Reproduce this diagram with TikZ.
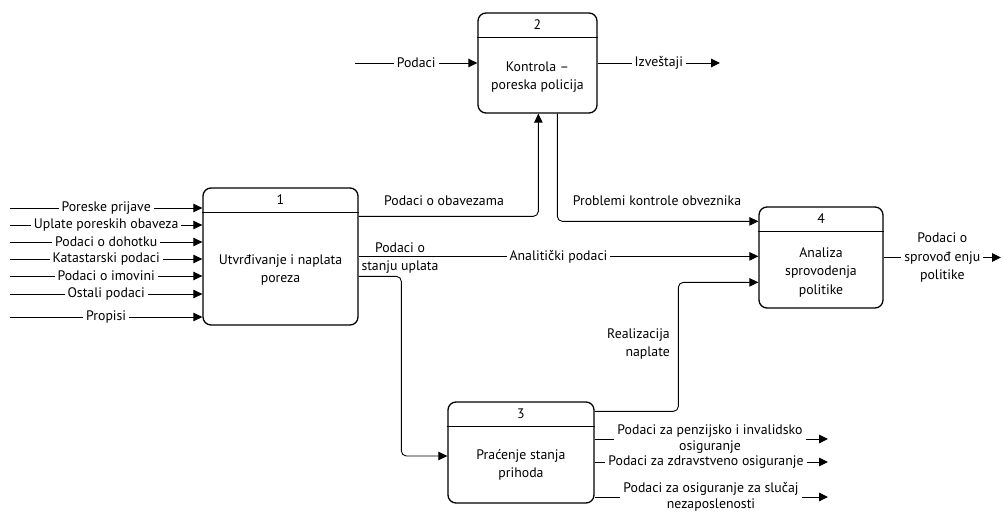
\documentclass[tikz,border=0pt]{standalone}
\usepackage{fontspec}
\setmainfont{PT Sans}
\usetikzlibrary{arrows.meta,calc}
\begin{document}
\begin{tikzpicture}[x=1pt,y=-1pt,
  font=\fontsize{13.8}{18.5}\selectfont,
  proc/.style={draw,line width=1.3pt,rounded corners=8pt,inner sep=0pt},
  hdr/.style={line width=1.3pt},
  flow/.style={line width=0.9pt,-{Triangle[length=9pt,width=8.5pt]}},
  lbl/.style={fill=white,inner xsep=3pt,inner ysep=1pt,align=center},
  txt/.style={align=center,inner sep=0pt},
  tight/.style={font=\fontsize{13.8}{15.5}\selectfont}]
\useasboundingbox (0,0) rectangle (1003,513);

% process boxes
\node[proc,minimum width=155pt,minimum height=137pt] (b1) at (280.5,256.5) {};
\node[proc,minimum width=119pt,minimum height=100pt] (b2) at (537.5,63) {};
\node[proc,minimum width=146pt,minimum height=101pt] (b3) at (521,452.5) {};
\node[proc,minimum width=124pt,minimum height=101pt] (b4) at (821,257.5) {};

% header bars
\foreach \b in {b1,b2,b3,b4}
  \draw[hdr] ($(\b.north west)+(0,25)$) -- ($(\b.north east)+(0,25)$);

% numbers
\node (b1id) at ($(b1.north)+(0,12.5)$) {1};
\node (b2id) at ($(b2.north)+(0,12.5)$) {2};
\node (b3id) at ($(b3.north)+(0,12.5)$) {3};
\node (b4id) at ($(b4.north)+(0,12.5)$) {4};

% titles
\node[txt] (b1t) at (280.5,270) {Utvrđivanje i naplata\\poreza};
\node[txt] (b2t) at (537.5,77) {Kontrola –\\poreska policija};
\node[txt] (b3t) at (521,465) {Praćenje stanja\\prihoda};
\node[txt] (b4t) at (821,272) {Analiza\\sprovodenja\\politike};

% inputs of process 1
\foreach \y/\t [count=\i] in {208/Poreske prijave, 225/Uplate poreskih obaveza,
    242/Podaci o dohotku, 259/Katastarski podaci, 276/Podaci o imovini,
    294/Ostali podaci, 317/Propisi} {
  \coordinate (src\i) at (10,\y);
  \draw[flow] (src\i) -- (src\i -| b1.west) node[lbl,midway] {\t};
}

% process 2 input and output
\coordinate (p2in) at (355,63);
\draw[flow] (p2in) -- (b2.west) node[lbl,midway] {Podaci};
\coordinate (p2out) at (720,63);
\draw[flow] (b2.east) -- (p2out) node[lbl,midway] {Izveštaji};

% 1 -> 2
\draw[flow,rounded corners=5pt] ($(b1.north east)+(0,29)$) -| ($(b2.south west)+(61,0)$);
\node (lobav) at (444,201) {Podaci o obavezama};

% 2 -> 4
\draw[flow,rounded corners=5pt] ($(b2.south west)+(80,0)$) |- ($(b4.north west)+(0,15)$);
\node (lprob) at (657,201) {Problemi kontrole obveznika};

% 1 -> 4
\draw[flow] ($(b1.north east)+(0,69)$) -- ($(b4.north west)+(0,50)$)
  node[lbl,midway] {Analitički podaci};
\node[txt] (lstanje) at (400,258) {Podaci o\\stanju uplata};

% 1 -> 3
\draw[flow,rounded corners=5pt] ($(b1.north east)+(0,89)$) -| ($(b3.west)+(-46,3.5)$)
  -- ($(b3.west)+(0,3.5)$);

% 3 -> 4
\draw[flow,rounded corners=5pt] ($(b3.north east)+(0,10)$) -| ($(b4.north west)+(-80,76)$)
  -- ($(b4.north west)+(0,76)$);
\node[txt,align=right,anchor=east] (lreal) at (670,344) {Realizacija\\naplate};

% output of process 4
\coordinate (p4out) at (1001,257.5);
\draw[flow] (b4.east) -- (p4out) node[lbl,midway] {Podaci o\\sprovođ enju\\politike};

% outputs of process 3
\coordinate (o1) at (828,439);
\draw[flow] (b3.east |- o1) -- (o1);
\node[lbl,tight] (l1) at (710,439) {Podaci za penzijsko i invalidsko\\osiguranje};
\coordinate (o2) at (828,462);
\draw[flow] (b3.east |- o2) -- (o2);
\node[lbl] (l2) at (706,462) {Podaci za zdravstveno osiguranje};
\coordinate (o3) at (828,497);
\draw[flow] (b3.east |- o3) -- (o3);
\node[lbl,tight] (l3) at (711,497) {Podaci za osiguranje za slučaj\\nezaposlenosti};
\end{tikzpicture}
\end{document}
